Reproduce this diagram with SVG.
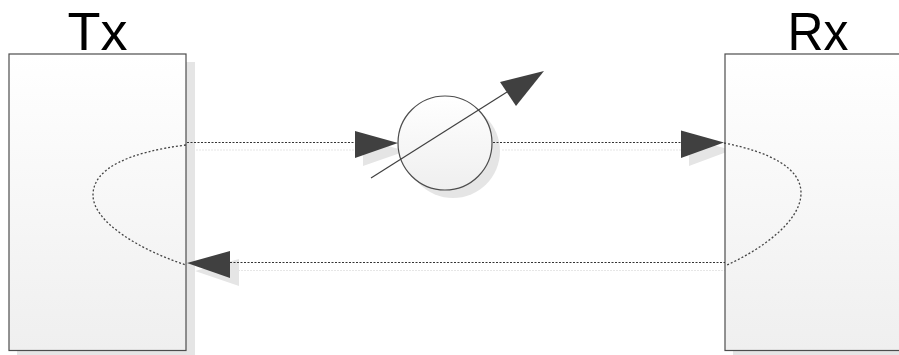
<svg xmlns="http://www.w3.org/2000/svg" width="899" height="355" viewBox="0 0 899 355">
<style>
.lbl{font-family:"Liberation Sans",Arial,sans-serif;font-size:54px;fill:#000;text-anchor:middle}
.box{stroke:#4d4d4d;stroke-width:1.2}
.sh{fill:#e5e5e5}
.shl{fill:none;stroke:#e6e6e6;stroke-width:1;stroke-dasharray:2 1}
.dot{fill:none;stroke:#333;stroke-width:1.2;stroke-dasharray:2 1.500}
.curve{fill:none;stroke:#444;stroke-width:1.300;stroke-dasharray:2 2}
.head{fill:#404040}
</style>
<defs>
<linearGradient id="g" x1="0" y1="0" x2="0" y2="1"><stop offset="0" stop-color="#fff"/><stop offset="1" stop-color="#efefef"/></linearGradient>
</defs>
<g id="shadows">
<rect class="sh" x="17" y="62" width="178" height="296"/>
<rect class="sh" x="733" y="62" width="166" height="296"/>
<circle class="sh" cx="453" cy="151" r="47"/>
<path class="shl" d="M196 150H363M502 150H689M238 270.500H733"/>
<path class="sh" d="M363 139L406 151L363 166Z"/>
<path class="sh" d="M689 139L732 150L689 166Z"/>
<path class="sh" d="M239 259L195 271L239 286Z"/>
</g>
<g id="tx">
<rect class="box" x="9" y="54" width="177" height="296.500" fill="url(#g)"/>
<text class="lbl" x="97.500" y="50">Tx</text>
</g>
<g id="rx">
<rect class="box" x="725" y="54" width="200" height="296.500" fill="url(#g)"/>
<text class="lbl" x="818" y="50" textLength="61" lengthAdjust="spacingAndGlyphs">Rx</text>
</g>
<g id="attenuator">
<circle cx="445" cy="143" r="47" fill="url(#g)" stroke="#4d4d4d" stroke-width="1.200"/>
</g>
<g id="connectors">
<path class="dot" d="M187 142.500H356M493 142.500H682M230 262.500H725"/>
<path class="curve" d="M186 145C130 152 93 168 93 195C93 222 140 250 186 265"/>
<path class="curve" d="M724 143C770 152 801 168 801 193C801 222 760 250 727 265"/>
<path d="M371 178L507 92" fill="none" stroke="#404040" stroke-width="1.200"/>
<path class="head" d="M355 131L398 143L355 158Z"/>
<path class="head" d="M681 130.500L724 142.500L681 158Z"/>
<path class="head" d="M230 251L187 263L230 278Z"/>
<path class="head" d="M544 71L500 82L516 106Z"/>
</g>
</svg>
